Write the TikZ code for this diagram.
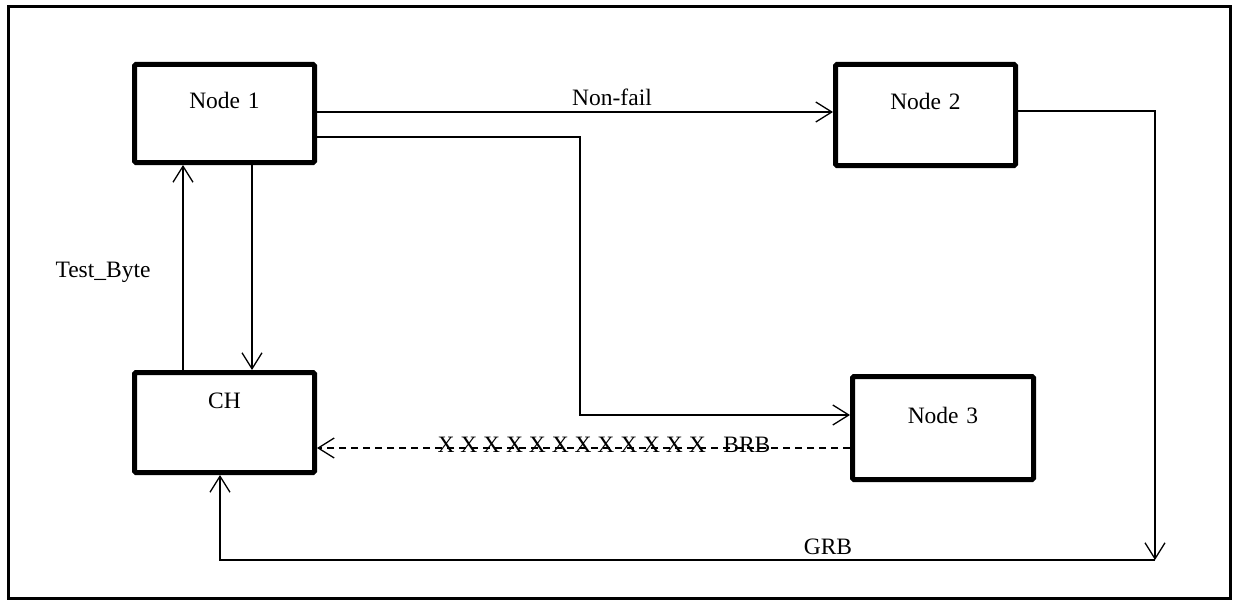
\documentclass[tikz,border=0pt]{standalone}
\usepackage{fontspec}
\setmainfont{Liberation Serif}
\usetikzlibrary{arrows.meta}
\begin{document}
\begin{tikzpicture}[x=1pt,y=-1pt,
  every node/.style={font=\fontsize{23.5}{27}\selectfont},
  nodebox/.style={draw, line width=5pt, rounded corners=1.5pt, inner sep=0pt, anchor=north west, align=center},
  lbl/.style={inner sep=0pt, anchor=center},
  conn/.style={line width=1.3pt},
  arr/.style={conn, -{Straight Barb[length=16pt,width=20pt,line width=1.3pt]}},
  dashline/.style={dash pattern=on 7pt off 5pt}]
\useasboundingbox (0,0) rectangle (1234,602);
\draw[line width=3pt] (8,7) rectangle (1230,598);

\node[nodebox, text width=180pt, text height=43.5pt, text depth=54.5pt] (n1) at (132,62) {Node 1};
\node[nodebox, text width=180pt, text height=45.5pt, text depth=55.5pt] (n2) at (833,62) {Node 2};
\node[nodebox, text width=181pt, text height=46.5pt, text depth=56.5pt] (n3) at (850,374) {Node 3};
\node[nodebox, text width=180pt, text height=35.5pt, text depth=64.5pt] (ch) at (132,370) {CH};

\coordinate (g) at (1155,560);

% Non-fail
\draw[arr] ([yshift=-50pt]n1.north east) -- ([yshift=-50pt]n2.north west);
\node[lbl] (lnf) at (612,97) {Non-fail};

% Node1 -> Node3
\draw[arr] ([yshift=-75pt]n1.north east) -| ([xshift=-270pt,yshift=-41pt]n3.north west) -- ([yshift=-41pt]n3.north west);

% CH <-> Node 1
\draw[arr] ([xshift=51pt]ch.north west) -- ([xshift=51pt]n1.south west);
\draw[arr] ([xshift=120pt]n1.south west) -- ([xshift=120pt]ch.north west);
\node[lbl] (ltb) at (103,272) {Test\_Byte};

% Node2 -> GRB -> CH
\draw[arr] ([yshift=-49pt]n2.north east) -| (g);
\draw[arr] (g) -| ([xshift=88pt]ch.south west);
\node[lbl] (lgrb) at (828,547) {GRB};

% Node3 -> CH dashed
\draw[arr, dashline] ([yshift=-74pt]n3.north west) -- ([yshift=-78pt]ch.north east);
\node[lbl] (lbrb) at (604,444.5) {X X X X X X X X X X X X~~~BRB};
\end{tikzpicture}
\end{document}
